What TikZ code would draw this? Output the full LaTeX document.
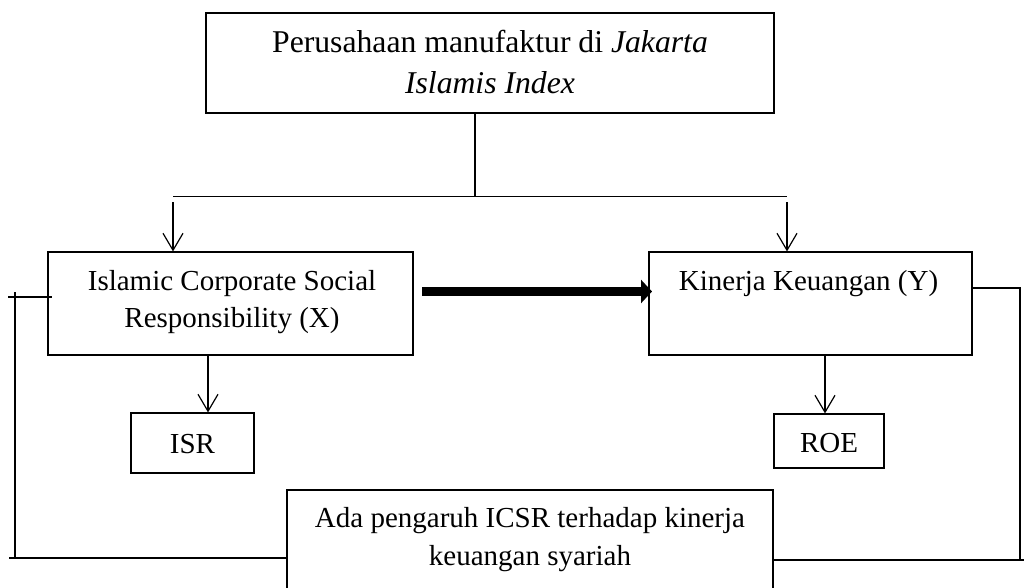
\documentclass[tikz,border=0pt]{standalone}
\usepackage{fontspec}
\setmainfont{Liberation Serif}
\usetikzlibrary{arrows.meta}
\begin{document}
\begin{tikzpicture}[x=1pt,y=-1pt,
  box/.style={draw=black, line width=1.1pt, rectangle, inner sep=0pt},
  txt/.style={inner sep=0pt, anchor=base, font=\fontsize{29}{37}\selectfont},
  bigtxt/.style={inner sep=0pt, anchor=base, font=\fontsize{31.7}{41}\selectfont},
  ln/.style={line width=1.2pt},
  lnb/.style={line width=1.7pt},
  arr/.style={line width=1.2pt, -{Straight Barb[length=17pt,width=20pt]}},
  fatarr/.style={line width=9pt, -{Triangle[length=11pt,width=23pt]}}]
\useasboundingbox (0,0) rectangle (1024,588);
% boxes
\node[box, minimum width=568pt, minimum height=100pt] (src) at (490,63) {};
\node[bigtxt] (srcA) at (490,52.5) {Perusahaan manufaktur di \textit{Jakarta}};
\node[bigtxt] (srcB) at (490,93.5) {\textit{Islamis Index}};
\node[box, minimum width=365pt, minimum height=103pt] (icsr) at (230.5,303.5) {};
\node[txt] (icsrA) at (232,290) {Islamic Corporate Social};
\node[txt] (icsrB) at (232,327) {Responsibility (X)};
\node[box, minimum width=323pt, minimum height=103pt] (kin) at (810.5,303.5) {};
\node[txt] (kinA) at (808.5,290) {Kinerja Keuangan (Y)};
\node[box, minimum width=123pt, minimum height=60pt] (isr) at (192.5,443) {};
\node[txt] (isrT) at (192.5,453) {ISR};
\node[box, minimum width=110pt, minimum height=54pt] (roe) at (829,441) {};
\node[txt] (roeT) at (829,452) {ROE};
\node[box, minimum width=486pt, minimum height=110pt] (res) at (530,545) {};
\node[txt] (resA) at (530,527) {Ada pengaruh ICSR terhadap kinerja};
\node[txt] (resB) at (530,565) {keuangan syariah};
% coordinates
\coordinate (j) at (475,196.5);
\coordinate (hl) at (173,196.5);
\coordinate (hr) at (787,196.5);
\coordinate (al) at (173,202);
\coordinate (ar) at (787,202);
\coordinate (ts) at (422,291.5);
\coordinate (te) at (652,291.5);
\coordinate (ia) at (208,355);
\coordinate (ra) at (825,355);
\coordinate (lf1) at (8,297);
\coordinate (lf2) at (52,297);
\coordinate (lv1) at (15,292);
\coordinate (lv2) at (15,558);
\coordinate (lb1) at (9,558);
\coordinate (lb2) at (287,558);
\coordinate (rf1) at (972,288);
\coordinate (rf2) at (1020,288);
\coordinate (rv2) at (1020,560);
\coordinate (rb1) at (773,560);
\coordinate (rb2) at (1024,560);
% connectors
\draw[ln] (src.south -| j) -- (j);
\draw[ln] (hl) -- (hr);
\draw[arr] (al) -- (icsr.north -| al);
\draw[arr] (ar) -- (kin.north -| ar);
\draw[fatarr] (ts) -- (te);
\draw[arr] (ia) -- (isr.north -| ia);
\draw[arr] (ra) -- (roe.north -| ra);
\draw[ln] (lf1) -- (lf2);
\draw[ln] (lv1) -- (lv2);
\draw[lnb] (lb1) -- (lb2);
\draw[ln] (rf1) -- (rf2) -- (rv2);
\draw[lnb] (rb1) -- (rb2);
\end{tikzpicture}
\end{document}
